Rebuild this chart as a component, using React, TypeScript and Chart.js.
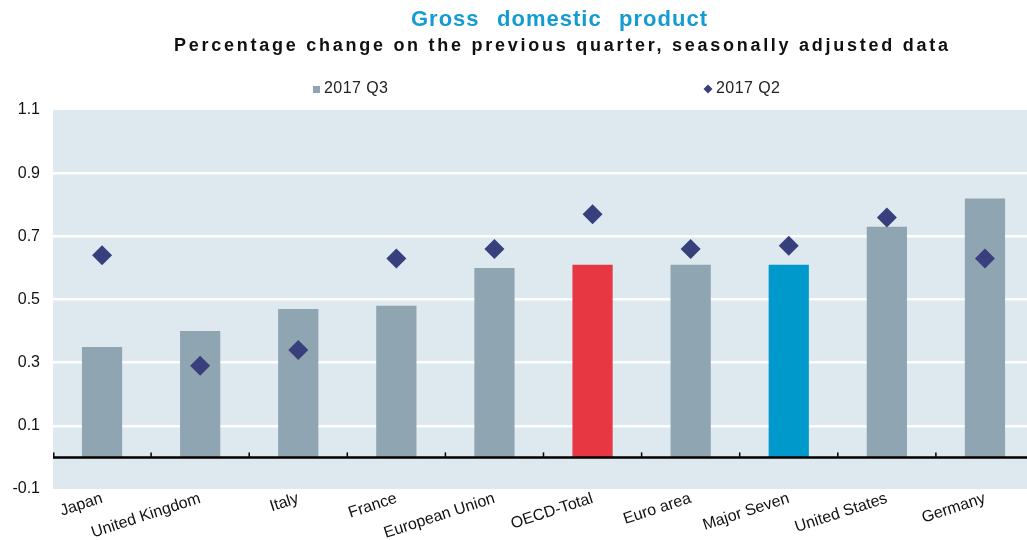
import React, { useEffect, useRef } from "react";
import { Chart, registerables } from "chart.js";

Chart.register(...registerables);

const categories = [
  "Japan",
  "United Kingdom",
  "Italy",
  "France",
  "European Union",
  "OECD-Total",
  "Euro area",
  "Major Seven",
  "United States",
  "Germany",
];
const q3Values = [0.35, 0.4, 0.47, 0.48, 0.6, 0.61, 0.61, 0.61, 0.73, 0.82];
const q2Values = [0.64, 0.29, 0.34, 0.63, 0.66, 0.77, 0.66, 0.67, 0.76, 0.63];
const yTicks = [-0.1, 0.1, 0.3, 0.5, 0.7, 0.9, 1.1];
const legendLabels = ["2017 Q3", "2017 Q2"];
const titleText = "Gross domestic product";
const subtitleText =
  "Percentage change on the previous quarter, seasonally adjusted data";

const BAR_GREY = "#8fa5b1";
const RED = "#e63743";
const BLUE = "#0099cb";
const NAVY = "#383f7d";
const PLOT_BG = "#dee8ef";
const highlight: Record<string, string> = { "OECD-Total": RED, "Major Seven": BLUE };
const barColors = categories.map((c) => highlight[c] || BAR_GREY);

function drawFit(
  ctx: CanvasRenderingContext2D,
  text: string,
  x0: number,
  cy: number,
  target: number,
  baseLetter: number,
  mode: "letter" | "word"
) {
  const c = ctx as any;
  c.letterSpacing = baseLetter + "px";
  c.wordSpacing = "0px";
  const w0 = ctx.measureText(text).width;
  ctx.textAlign = "left";
  ctx.textBaseline = "middle";
  const extra = Math.max(0, target - w0);
  if (mode === "word") {
    const gaps = text.split(" ").length - 1;
    c.wordSpacing = (gaps > 0 ? extra / gaps : 0) + "px";
  } else {
    c.letterSpacing = baseLetter + extra / (text.length - 1) + "px";
  }
  ctx.fillText(text, x0, cy);
  c.letterSpacing = "0px";
  c.wordSpacing = "0px";
}

const decorPlugin = {
  id: "decor",
  beforeDraw(chart: any) {
    const { ctx, chartArea } = chart;
    ctx.save();
    ctx.fillStyle = PLOT_BG;
    ctx.fillRect(chartArea.left, chartArea.top, chartArea.right - chartArea.left, chartArea.bottom - chartArea.top);
    ctx.restore();
  },
  afterDatasetsDraw(chart: any) {
    const { ctx, chartArea, scales } = chart;
    const y0 = scales.y.getPixelForValue(0);
    ctx.save();
    ctx.strokeStyle = "#000";
    ctx.lineWidth = 2.5;
    ctx.beginPath();
    ctx.moveTo(chartArea.left, y0);
    ctx.lineTo(chartArea.right, y0);
    ctx.stroke();
    ctx.lineWidth = 1.5;
    const n = categories.length;
    const w = (chartArea.right - chartArea.left) / n;
    for (let i = 0; i <= n; i++) {
      const x = chartArea.left + i * w + (i === 0 ? 0.75 : 0);
      ctx.beginPath();
      ctx.moveTo(x, y0);
      ctx.lineTo(x, y0 - 5);
      ctx.stroke();
    }
    ctx.restore();
  },
  afterDraw(chart: any) {
    const { ctx } = chart;
    ctx.save();
    ctx.fillStyle = "#159bd3";
    ctx.font = "bold 22px 'Liberation Sans', Arial, sans-serif";
    drawFit(ctx, titleText, 411, 20, 297, 1, "word");
    ctx.fillStyle = "#111";
    ctx.font = "bold 18px 'Liberation Sans', Arial, sans-serif";
    drawFit(ctx, subtitleText, 174, 46, 774, 0, "letter");

    // legend
    ctx.font = "16px 'Liberation Sans', Arial, sans-serif";
    ctx.fillStyle = BAR_GREY;
    ctx.fillRect(313, 86, 7, 7);
    ctx.fillStyle = "#222";
    drawFit(ctx, legendLabels[0], 324, 89, 64, 0, "letter");
    ctx.fillStyle = NAVY;
    ctx.beginPath();
    ctx.moveTo(708, 84.5);
    ctx.lineTo(712.5, 89);
    ctx.lineTo(708, 93.5);
    ctx.lineTo(703.5, 89);
    ctx.closePath();
    ctx.fill();
    ctx.fillStyle = "#222";
    drawFit(ctx, legendLabels[1], 716, 89, 64, 0, "letter");
    ctx.restore();
  },
};

export default function App() {
  const ref = useRef<HTMLCanvasElement | null>(null);
  useEffect(() => {
    if (!ref.current) return;
    const chart = new Chart(ref.current, {
      type: "bar",
      data: {
        labels: categories,
        datasets: [
          {
            type: "line",
            label: legendLabels[1],
            data: q2Values,
            showLine: false,
            pointStyle: "rectRot",
            pointRadius: 10,
            pointHoverRadius: 10,
            pointBackgroundColor: NAVY,
            pointBorderColor: NAVY,
            pointBorderWidth: 0,
            order: 0,
          } as any,
          {
            type: "bar",
            label: legendLabels[0],
            data: q3Values,
            backgroundColor: barColors,
            barPercentage: 0.41,
            categoryPercentage: 1,
            order: 1,
          },
        ],
      },
      options: {
        responsive: false,
        animation: false,
        devicePixelRatio: 1,
        layout: { autoPadding: false, padding: { top: 110, left: 0, right: 0, bottom: 0 } },
        plugins: {
          legend: { display: false },
          title: { display: false },
          tooltip: { enabled: false },
        },
        scales: {
          x: {
            grid: { display: false, drawTicks: false },
            border: { display: false },
            ticks: {
              minRotation: 18,
              maxRotation: 18,
              autoSkip: false,
              padding: 0,
              color: "#111",
              font: { family: "'Liberation Sans', Arial, sans-serif", size: 16 },
            },
            afterFit: (s: any) => {
              s.height = 51;
              s.paddingLeft = 0;
              s.paddingRight = 0;
            },
          },
          y: {
            min: -0.1,
            max: 1.1,
            afterBuildTicks: (s: any) => {
              s.ticks = yTicks.map((v) => ({ value: v }));
            },
            grid: {
              drawTicks: false,
              lineWidth: 2.5,
              color: (c: any) =>
                c.tick && c.tick.value > -0.05 && c.tick.value < 1.05 ? "#ffffff" : "rgba(0,0,0,0)",
            },
            border: { display: false },
            ticks: {
              padding: 13,
              color: "#111",
              font: { family: "'Liberation Sans', Arial, sans-serif", size: 16 },
              callback: (v: any) => Number(v).toFixed(1),
            },
            afterFit: (s: any) => {
              s.width = 53;
              s.paddingTop = 0;
              s.paddingBottom = 0;
            },
          },
        },
      },
      plugins: [decorPlugin],
    });
    return () => chart.destroy();
  }, []);
  return (
    <div
      style={{
        position: "absolute",
        left: 0,
        top: 0,
        width: 1027,
        height: 540,
        overflow: "hidden",
      }}
    >
      <canvas ref={ref} width={1034} height={540} style={{ display: "block" }} />
    </div>
  );
}
